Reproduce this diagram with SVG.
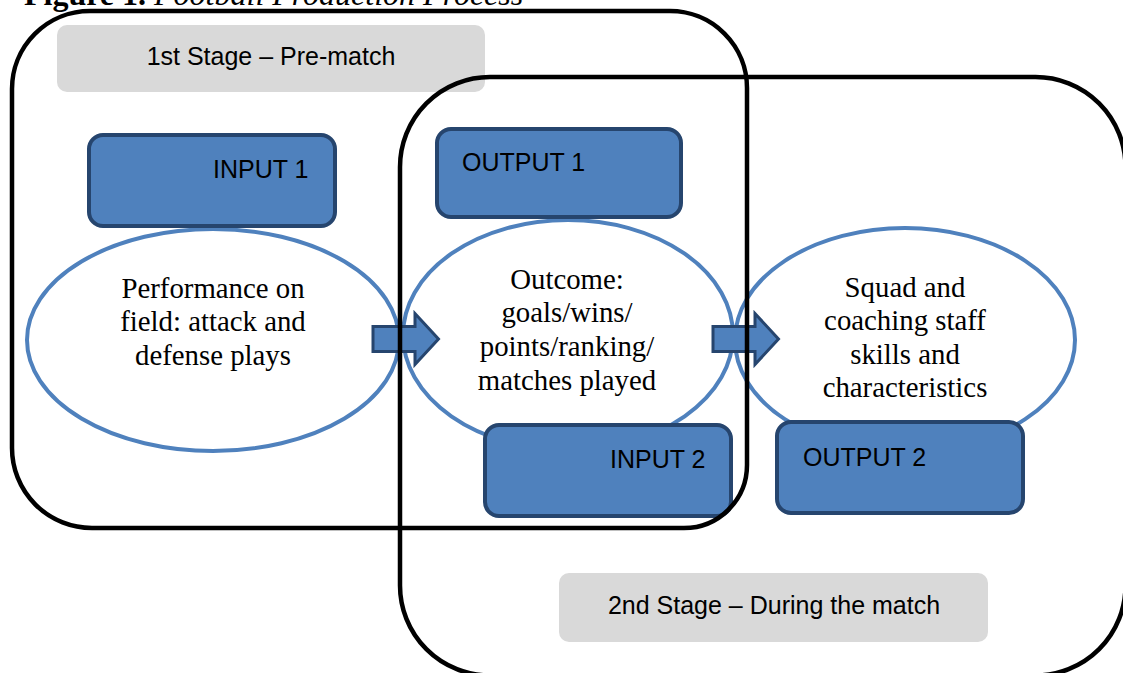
<svg xmlns="http://www.w3.org/2000/svg" width="1123" height="673" viewBox="0 0 1123 673">
<style>
.serif{font-family:"Liberation Serif","Times New Roman",serif;fill:#000}
.sans{font-family:"Liberation Sans",Arial,sans-serif;font-size:25px;fill:#000}
.etext{font-size:28.8px;text-anchor:middle}
.box{fill:#4F81BD;stroke:#26456E;stroke-width:4}
.ell{fill:none;stroke:#4F81BD;stroke-width:4}
.stage{fill:#D9D9D9;stroke:none}
.frame{fill:none;stroke:#000;stroke-width:4.5}
.arrow{fill:#4F81BD;stroke:#26456E;stroke-width:3;stroke-linejoin:miter}
</style>
<rect width="1123" height="673" fill="#fff"/>
<text class="serif" x="24" y="5" font-size="32"><tspan font-weight="bold">Figure 1.</tspan> <tspan font-style="italic">Football Production Process</tspan></text>

<g id="stage1">
<rect class="stage" x="57" y="25" width="428" height="67" rx="10"/>
<text class="sans" x="271" y="65" text-anchor="middle" font-size="26">1st Stage – Pre-match</text>
</g>
<g id="stage2">
<rect class="stage" x="559" y="573" width="429" height="69" rx="10"/>
<text class="sans" x="774" y="614" text-anchor="middle" font-size="26">2nd Stage – During the match</text>
</g>

<g id="ellipse1">
<ellipse class="ell" cx="213" cy="340" rx="186" ry="111"/>
<text class="serif etext"><tspan x="213" y="298">Performance on</tspan><tspan x="213" y="331">field: attack and</tspan><tspan x="213" y="365">defense plays</tspan></text>
</g>
<g id="ellipse2">
<ellipse class="ell" cx="568" cy="335" rx="165" ry="115"/>
<text class="serif etext"><tspan x="567" y="289">Outcome:</tspan><tspan x="567" y="322">goals/wins/</tspan><tspan x="567" y="356">points/ranking/</tspan><tspan x="567" y="390">matches played</tspan></text>
</g>
<g id="ellipse3">
<ellipse class="ell" cx="905" cy="340" rx="170" ry="112"/>
<text class="serif etext"><tspan x="905" y="297">Squad and</tspan><tspan x="905" y="330">coaching staff</tspan><tspan x="905" y="364">skills and</tspan><tspan x="905" y="397">characteristics</tspan></text>
</g>

<g id="input1">
<rect class="box" x="89" y="135" width="246" height="91" rx="14"/>
<text class="sans" x="213" y="178">INPUT 1</text>
</g>
<g id="output1">
<rect class="box" x="437" y="129" width="244" height="88" rx="14"/>
<text class="sans" x="462" y="171">OUTPUT 1</text>
</g>
<g id="input2">
<rect class="box" x="485" y="425" width="246" height="91" rx="14"/>
<text class="sans" x="610" y="468">INPUT 2</text>
</g>
<g id="output2">
<rect class="box" x="777" y="422" width="246" height="91" rx="14"/>
<text class="sans" x="803" y="466">OUTPUT 2</text>
</g>

<g id="connectors">
<path class="arrow" d="M373 326.5 H415 V313.5 L438.5 339 L415 364.5 V351.5 H373 Z"/>
<path class="arrow" d="M713 326.5 H755 V313.5 L778.5 339 L755 364.5 V351.5 H713 Z"/>
</g>

<g id="frame1">
<path class="frame" d="M90 11 H670 A77 77 0 0 1 747 88 V465 A63 63 0 0 1 684 528 H92 A80 80 0 0 1 12 448 V89 A78 78 0 0 1 90 11 Z"/>
</g>
<g id="frame2">
<rect class="frame" x="400" y="77" width="725.5" height="598.5" rx="90"/>
</g>
</svg>
